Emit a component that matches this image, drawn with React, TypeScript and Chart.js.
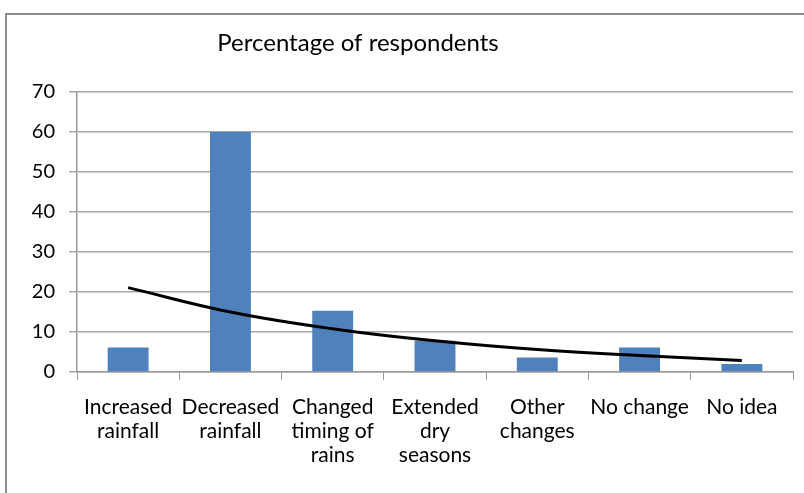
import React, { useEffect, useRef } from "react";
import { Chart, registerables } from "chart.js";

Chart.register(...registerables);

const categories: string[][] = [
  ["Increased", "rainfall"],
  ["Decreased", "rainfall"],
  ["Changed", "timing of", "rains"],
  ["Extended", "dry", "seasons"],
  ["Other", "changes"],
  ["No change"],
  ["No idea"],
];
const percentages: number[] = [6.1, 60, 15.3, 7.8, 3.6, 6.1, 2.0];
const trendValues: number[] = [21.1, 15.0, 10.8, 7.8, 5.6, 4.1, 2.9];
const yTicks: number[] = [0, 10, 20, 30, 40, 50, 60, 70];
const chartTitle = "Percentage of respondents";

const FONT = "Lato, 'Open Sans', sans-serif";

const titlePlugin = {
  id: "customTitle",
  afterDraw(chart: any) {
    const ctx = chart.ctx;
    ctx.save();
    ctx.font = `24px ${FONT}`;
    ctx.fillStyle = "#000";
    ctx.textAlign = "center";
    ctx.textBaseline = "middle";
    ctx.fillText(chartTitle, 358, 43);
    ctx.restore();
  },
};

export default function App() {
  const ref = useRef<HTMLCanvasElement | null>(null);
  useEffect(() => {
    if (!ref.current) return;
    const chart = new Chart(ref.current, {
      type: "bar",
      data: {
        labels: categories,
        datasets: [
          {
            type: "line",
            data: trendValues,
            borderColor: "#000000",
            borderWidth: 3,
            pointRadius: 0,
            tension: 0.4,
            fill: false,
            order: 0,
          } as any,
          {
            type: "bar",
            data: percentages,
            backgroundColor: "#4F81BD",
            borderWidth: 0,
            barPercentage: 0.4,
            categoryPercentage: 1,
            order: 1,
          },
        ],
      },
      options: {
        responsive: false,
        animation: false,
        devicePixelRatio: 1,
        layout: { padding: { top: 92, right: 11, left: 0, bottom: 0 } },
        plugins: {
          legend: { display: false },
          title: { display: false },
          tooltip: { enabled: false },
        },
        scales: {
          x: {
            offset: true,
            grid: {
              offset: true,
              drawOnChartArea: false,
              drawTicks: true,
              tickLength: 8,
              color: "#9a9a9a",
            },
            border: { color: "#9a9a9a", width: 1.5 },
            ticks: {
              color: "#000",
              font: { family: FONT, size: 21, lineHeight: "24px" },
              padding: 15,
              maxRotation: 0,
              autoSkip: false,
            },
            afterFit(scale: any) {
              scale.height = 493 - 372;
            },
          },
          y: {
            min: 0,
            max: 70,
            afterBuildTicks(scale: any) {
              scale.ticks = yTicks.map((v) => ({ value: v }));
            },
            grid: {
              color: "#a6a6a6",
              lineWidth: 1.5,
              tickLength: 8,
            },
            border: { color: "#9a9a9a", width: 1.5 },
            ticks: {
              color: "#000",
              font: { family: FONT, size: 20 },
              padding: 14,
            },
            afterFit(scale: any) {
              scale.width = 77;
            },
          },
        },
      },
      plugins: [titlePlugin],
    });
    return () => chart.destroy();
  }, []);

  return (
    <div
      style={{
        position: "fixed",
        left: 0,
        top: 0,
        width: 804,
        height: 493,
        overflow: "hidden",
        background: "#fff",
      }}
    >
      <div
        style={{
          position: "absolute",
          left: 5,
          top: 13,
          width: 900,
          height: 600,
          border: "2px solid #8c8c8c",
          boxSizing: "border-box",
        }}
      />
      <canvas
        ref={ref}
        width={804}
        height={493}
        style={{ position: "absolute", left: 0, top: 0, width: 804, height: 493 }}
      />
    </div>
  );
}
